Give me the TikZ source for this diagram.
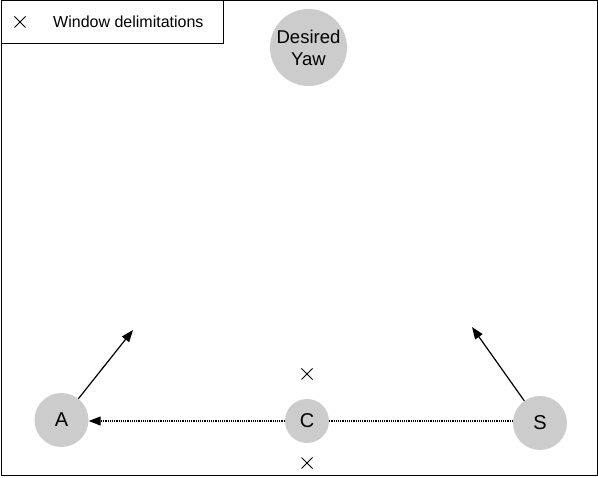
\documentclass[tikz,border=0pt]{standalone}
\usepackage{fontspec}
\setmainfont{Liberation Sans}
\usetikzlibrary{arrows.meta, shapes.misc}
\definecolor{agentgray}{HTML}{CCCCCC}
\begin{document}
\begin{tikzpicture}[x=1pt, y=-1pt, >={Triangle[length=12pt, width=9pt]},
  agent/.style={circle, fill=agentgray, inner sep=0pt, font=\fontsize{20}{22}\selectfont},
  delim/.style={cross out, draw, line width=1pt, minimum size=10pt, inner sep=0pt},
  legendtext/.style={anchor=west, inner sep=0pt, font=\fontsize{16}{18}\selectfont}]

  % Page size and outer frame
  \useasboundingbox (0,0) rectangle (598,478);
  \draw[line width=1pt] (1,1) rectangle (597,476);

  % Legend box in the upper left corner
  \draw[line width=1pt] (1,1) rectangle (223,44);
  \node[delim] (legcross) at (20,22) {};
  \node[legendtext] (legtext) at (53,22) {Window delimitations};

  % Desired yaw at the top
  \node[agent, minimum size=77pt, align=center,
        font=\fontsize{18.5}{22}\selectfont] (yaw) at (308.5,47.5) {Desired\\Yaw};

  % The three agents A, C and S
  \node[agent, minimum size=54pt] (A) at (61.5,420) {A};
  \node[agent, minimum size=44pt] (C) at (307,421) {C};
  \node[agent, minimum size=54pt] (S) at (540,423) {S};

  % Window delimitations above and below C
  \node[delim] (upper) at (307,374) {};
  \node[delim] (lower) at (307,463) {};

  % Heading arrows of A and S
  \coordinate (aimA) at (133,330);
  \coordinate (aimS) at (472,327);
  \draw[->, line width=1.2pt] (A) -- (aimA);
  \draw[->, line width=1.2pt] (S) -- (aimS);

  % Dotted links along the line of agents
  \draw[->, densely dotted, line width=1.2pt] (C.west) -- (A.east |- C.west);
  \draw[densely dotted, line width=1.2pt] (C.east) -- (S.west |- C.east);

\end{tikzpicture}
\end{document}
